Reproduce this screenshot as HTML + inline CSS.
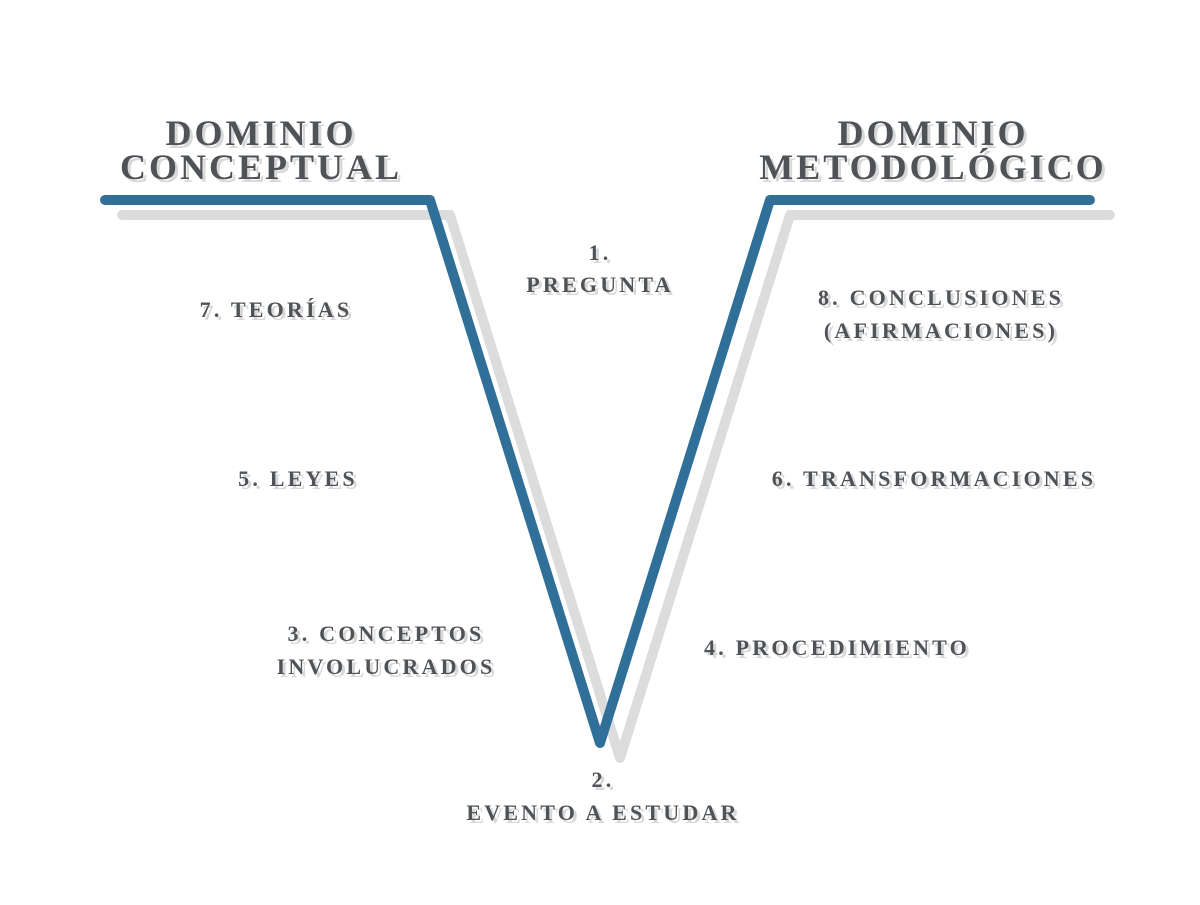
<!DOCTYPE html>
<html><head><meta charset="utf-8"><style>
html,body{margin:0;padding:0;background:#fff}
svg text{font-family:"Liberation Serif",serif;font-weight:bold;fill:#4f5357;text-anchor:middle}
.h{font-size:36px;letter-spacing:3px}
.l{font-size:22px;letter-spacing:3.2px}
.s{fill:#d8d8d8}
</style></head><body>
<svg width="1200" height="900" xmlns="http://www.w3.org/2000/svg">
<polyline points="122,215 450,215 620,758 790,215 1110,215" fill="none" stroke="#dcdcdc" stroke-width="10" stroke-linejoin="round" stroke-linecap="round"/>
<polyline points="105,200 430,200 600,743 770,200 1090,200" fill="none" stroke="#2f6f98" stroke-width="10" stroke-linejoin="round" stroke-linecap="round"/>
<g transform="translate(3,3)" class="s">
<text class="h s" x="261" y="145">DOMINIO</text><text class="h s" x="261" y="179">CONCEPTUAL</text>
<text class="h s" x="933" y="145">DOMINIO</text><text class="h s" x="933" y="179">METODOLÓGICO</text>
<text class="l s" x="600" y="260">1.</text><text class="l s" x="600" y="292">PREGUNTA</text>
<text class="l s" x="276" y="317">7. TEORÍAS</text>
<text class="l s" x="298" y="486">5. LEYES</text>
<text class="l s" x="386" y="641">3. CONCEPTOS</text><text class="l s" x="386" y="674">INVOLUCRADOS</text>
<text class="l s" x="941" y="305">8. CONCLUSIONES</text><text class="l s" x="941" y="338">(AFIRMACIONES)</text>
<text class="l s" x="934" y="486">6. TRANSFORMACIONES</text>
<text class="l s" x="837" y="655">4. PROCEDIMIENTO</text>
<text class="l s" x="603" y="787">2.</text><text class="l s" x="603" y="820">EVENTO A ESTUDAR</text>
</g>
<text class="h" x="261" y="145">DOMINIO</text><text class="h" x="261" y="179">CONCEPTUAL</text>
<text class="h" x="933" y="145">DOMINIO</text><text class="h" x="933" y="179">METODOLÓGICO</text>
<text class="l" x="600" y="260">1.</text><text class="l" x="600" y="292">PREGUNTA</text>
<text class="l" x="276" y="317">7. TEORÍAS</text>
<text class="l" x="298" y="486">5. LEYES</text>
<text class="l" x="386" y="641">3. CONCEPTOS</text><text class="l" x="386" y="674">INVOLUCRADOS</text>
<text class="l" x="941" y="305">8. CONCLUSIONES</text><text class="l" x="941" y="338">(AFIRMACIONES)</text>
<text class="l" x="934" y="486">6. TRANSFORMACIONES</text>
<text class="l" x="837" y="655">4. PROCEDIMIENTO</text>
<text class="l" x="603" y="787">2.</text><text class="l" x="603" y="820">EVENTO A ESTUDAR</text>
</svg>
</body></html>
